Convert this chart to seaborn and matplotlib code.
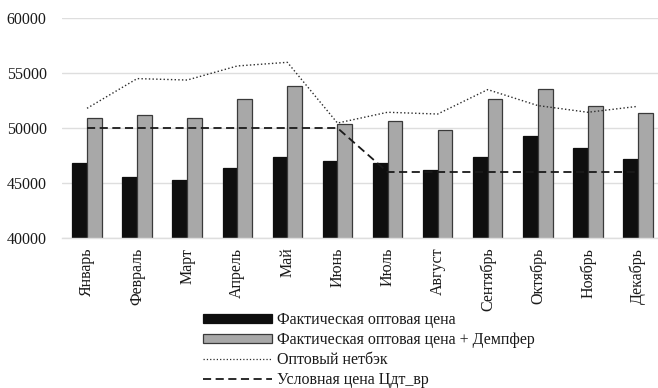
import matplotlib
matplotlib.use("Agg")
import matplotlib.pyplot as plt
import seaborn as sns
import pandas as pd
from matplotlib.patches import Patch
from matplotlib.lines import Line2D

months = ["Январь", "Февраль", "Март", "Апрель", "Май", "Июнь",
          "Июль", "Август", "Сентябрь", "Октябрь", "Ноябрь", "Декабрь"]
actual_price = [46820, 45580, 45270, 46360, 47340, 47040,
                46820, 46150, 47340, 49250, 48220, 47180]
price_damper = [50880, 51220, 50880, 52670, 53850, 50340,
                50640, 49850, 52610, 53550, 52000, 51360]
netback = [51790, 54490, 54360, 55640, 55970, 50450,
           51430, 51270, 53490, 52040, 51430, 51970]
cond_price = [50000, 50000, 50000, 50000, 50000, 50000,
              46000, 46000, 46000, 46000, 46000, 46000]

lbl_actual = "Фактическая оптовая цена"
lbl_damper = "Фактическая оптовая цена + Демпфер"
lbl_netback = "Оптовый нетбэк"
lbl_cond = "Условная цена Цдт_вр"
y_ticks = [40000, 45000, 50000, 55000, 60000]

sns.set_theme(style="white")
plt.rcParams["font.family"] = ["Liberation Serif", "DejaVu Serif"]

bars = pd.DataFrame({
    "month": months * 2,
    "value": actual_price + price_damper,
    "series": [lbl_actual] * 12 + [lbl_damper] * 12,
})

fig = plt.figure(figsize=(6.58, 3.88), dpi=100)
ax = fig.add_axes([62 / 658, 150 / 388, 601 / 658, 220 / 388])

ax.grid(axis="y", color="#dedede", linewidth=1.0, zorder=0)
ax.set_axisbelow(True)

sns.barplot(data=bars, x="month", y="value", hue="series", order=months,
            hue_order=[lbl_actual, lbl_damper],
            palette=["#0e0e0e", "#a8a8a8"], width=0.59, gap=0,
            edgecolor="#3a3a3a", linewidth=0.9, saturation=1,
            legend=False, ax=ax, zorder=2)
# keep the black bars' outline black
for p in ax.patches[:12]:
    p.set_edgecolor("#0e0e0e")

sns.pointplot(x=months, y=netback, order=months, color="#2b2b2b",
              markers="", linestyles=":", linewidth=1.0, ax=ax, zorder=3)
sns.pointplot(x=months, y=cond_price, order=months, color="#1a1a1a",
              markers="", linestyles=(0, (4.5, 2.5)), linewidth=1.3, ax=ax, zorder=3)

ax.set_ylim(40000, 60000)
ax.set_xlim(-0.5, 11.5)
ax.set_yticks(y_ticks)
ax.set_yticklabels([str(v) for v in y_ticks], fontsize=11.5, color="#1a1a1a")
ax.set_xticks(range(len(months)))
ax.set_xticklabels(months, rotation=90, fontsize=11.5, color="#1a1a1a")
ax.tick_params(axis="x", length=0, pad=7)
ax.tick_params(axis="y", length=0, pad=11)
ax.set_xlabel("")
ax.set_ylabel("")
for side in ["top", "right", "left"]:
    ax.spines[side].set_visible(False)
ax.spines["bottom"].set_color("#dedede")
ax.spines["bottom"].set_linewidth(1.0)

handles = [
    Patch(facecolor="#0e0e0e", edgecolor="#0e0e0e", linewidth=0.9),
    Patch(facecolor="#a8a8a8", edgecolor="#3a3a3a", linewidth=0.9),
    Line2D([], [], color="#2b2b2b", linestyle=":", linewidth=0.9),
    Line2D([], [], color="#1a1a1a", linestyle=(0, (4.5, 2.5)), linewidth=1.3),
]
fig.legend(handles, [lbl_actual, lbl_damper, lbl_netback, lbl_cond],
           loc="upper left", bbox_to_anchor=(192 / 658, 1 - 301 / 388),
           frameon=False, fontsize=11.5, handlelength=4.3, handleheight=0.45,
           handletextpad=0.35, labelspacing=0.24, borderpad=0.2,
           labelcolor="#1a1a1a")

fig.savefig("out.png", dpi=100)
